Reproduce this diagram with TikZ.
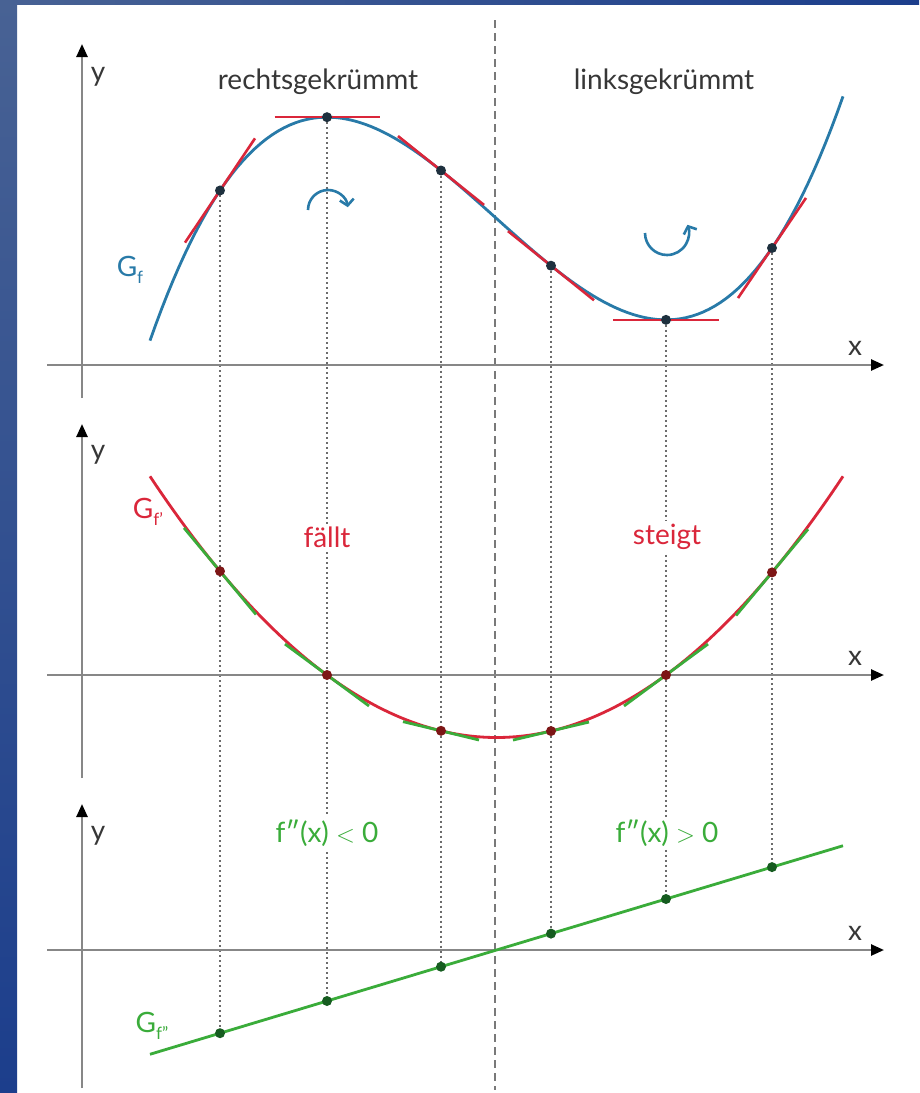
\documentclass[tikz,border=0pt]{standalone}
\usepackage{fontspec}
\setmainfont{Lato}
\usetikzlibrary{arrows.meta}
\definecolor{bandtop}{RGB}{72,98,148}
\definecolor{bandbot}{RGB}{28,62,140}
\definecolor{curveblue}{RGB}{40,122,168}
\definecolor{tanred}{RGB}{218,38,58}
\definecolor{lgreen}{RGB}{58,172,58}
\definecolor{axisgray}{RGB}{135,135,135}
\definecolor{txtgray}{RGB}{55,55,55}
\definecolor{dotnavy}{RGB}{30,48,62}
\definecolor{dotred}{RGB}{125,22,22}
\definecolor{dotgreen}{RGB}{22,92,32}
\newcommand{\lowidx}[1]{\raisebox{-0.45ex}{\fontsize{17}{17}\selectfont #1}}
\begin{document}
\begin{tikzpicture}[x=1pt,y=-1pt,
  declare function={uu(\x)=(\x-496.5)/169.5;
    fA(\x)=218.5-152*(uu(\x)*uu(\x)*uu(\x)/3-uu(\x));
    sA(\x)=-152*(uu(\x)*uu(\x)-1)/169.5;
    fB(\x)=675-62.5*(uu(\x)*uu(\x)-1);
    sB(\x)=-125*uu(\x)/169.5;
    fC(\x)=950-51*uu(\x);},
  axis/.style={draw=axisgray,line width=2.5pt,-{Triangle[length=13pt,width=11pt,color=black]}},
  guide/.style={draw=axisgray!80!black,line width=2.2pt,dash pattern=on 2pt off 3pt},
  center/.style={draw=axisgray!90!black,line width=1.5pt,dash pattern=on 8pt off 5pt},
  tangent/.style={draw=tanred,line width=2.6pt},
  gtangent/.style={draw=lgreen,line width=2.8pt},
  dotA/.style={circle,fill=dotnavy,inner sep=0pt,minimum size=10pt},
  dotB/.style={circle,fill=dotred,inner sep=0pt,minimum size=10pt},
  dotC/.style={circle,fill=dotgreen,inner sep=0pt,minimum size=10pt},
  lbl/.style={font=\fontsize{28}{32}\selectfont,inner sep=3pt},
  rot/.style={draw=curveblue,line width=2.6pt,-{Straight Barb[length=6pt,width=14pt]}}
]
\useasboundingbox (0,0) rectangle (919,1093);
\fill[white] (0,0) rectangle (919,1093);
\shade[top color=bandtop,bottom color=bandbot] (0,0) rectangle (17,1093);
\shade[left color=bandtop,right color=bandbot] (0,0) rectangle (919,4);

% centre dashed line
\draw[center] (495,20) -- (495,1090);

% points
\foreach \p/\n in {220/1,327/2,441/3,551/4,666/5,772/6}{
  \coordinate (a\n) at (\p,{fA(\p)});
  \coordinate (b\n) at (\p,{fB(\p)});
  \coordinate (c\n) at (\p,{fC(\p)});
}
% guide lines
\foreach \n in {1,...,6}{ \draw[guide] (a\n) -- (c\n); }

% axes
\draw[axis] (47,365) -- (884,365);
\draw[axis] (82,398) -- (82,44);
\draw[axis] (47,675) -- (884,675);
\draw[axis] (82,778) -- (82,424);
\draw[axis] (47,950) -- (884,950);
\draw[axis] (82,1088) -- (82,804);

% curves
\draw[curveblue,line width=2.8pt] plot[domain=150:843,samples=120] (\x,{fA(\x)});
\draw[tanred,line width=2.8pt] plot[domain=150:843,samples=120] (\x,{fB(\x)});
\draw[lgreen,line width=2.8pt] (150,{fC(150)}) -- (843,{fC(843)});

% tangents on G_f
\foreach \p/\h in {220/35,327/52.5,441/43,551/43,666/53,772/34}{
  \draw[tangent] ({\p-\h},{fA(\p)-\h*sA(\p)}) -- ({\p+\h},{fA(\p)+\h*sA(\p)});
}
% tangents on G_f'
\foreach \p/\h in {220/36,327/42,441/38,551/38,666/42,772/36}{
  \draw[gtangent] ({\p-\h},{fB(\p)-\h*sB(\p)}) -- ({\p+\h},{fB(\p)+\h*sB(\p)});
}

% dots
\foreach \n in {1,...,6}{
  \node[dotA] at (a\n) {};
  \node[dotB] at (b\n) {};
  \node[dotC] at (c\n) {};
}

% rotation arrows
\draw[rot] (308,210) arc[start angle=180,end angle=352,radius=20];
\draw[rot] (645,233) arc[start angle=180,end angle=-22,radius=22];

% labels
\node[lbl,text=txtgray,anchor=base] (t1) at (318,89) {rechtsgekrümmt};
\node[lbl,text=txtgray,anchor=base] (t2) at (664,89) {linksgekrümmt};
\node[lbl,text=txtgray,anchor=base] (y1) at (98,81) {y};
\node[lbl,text=txtgray,anchor=base] (y2) at (98,459) {y};
\node[lbl,text=txtgray,anchor=base] (y3) at (98,840) {y};
\node[lbl,text=txtgray,anchor=base] (x1) at (855,355) {x};
\node[lbl,text=txtgray,anchor=base] (x2) at (855,665) {x};
\node[lbl,text=txtgray,anchor=base] (x3) at (855,940) {x};
\node[lbl,text=curveblue] (g1) at (130,270) {G\lowidx{f}};
\node[lbl,text=tanred] (g2) at (148,512) {G\lowidx{f'}};
\node[lbl,text=lgreen] (g3) at (152,1026) {G\lowidx{f''}};
\node[lbl,text=tanred,fill=white] (l1) at (327,537) {fällt};
\node[lbl,text=tanred,fill=white] (l2) at (667,537) {steigt};
\node[lbl,text=lgreen,fill=white] (l3) at (327,833) {f\symbol{"2033}(x) $<$ 0};
\node[lbl,text=lgreen,fill=white] (l4) at (667,833) {f\symbol{"2033}(x) $>$ 0};
\end{tikzpicture}
\end{document}
